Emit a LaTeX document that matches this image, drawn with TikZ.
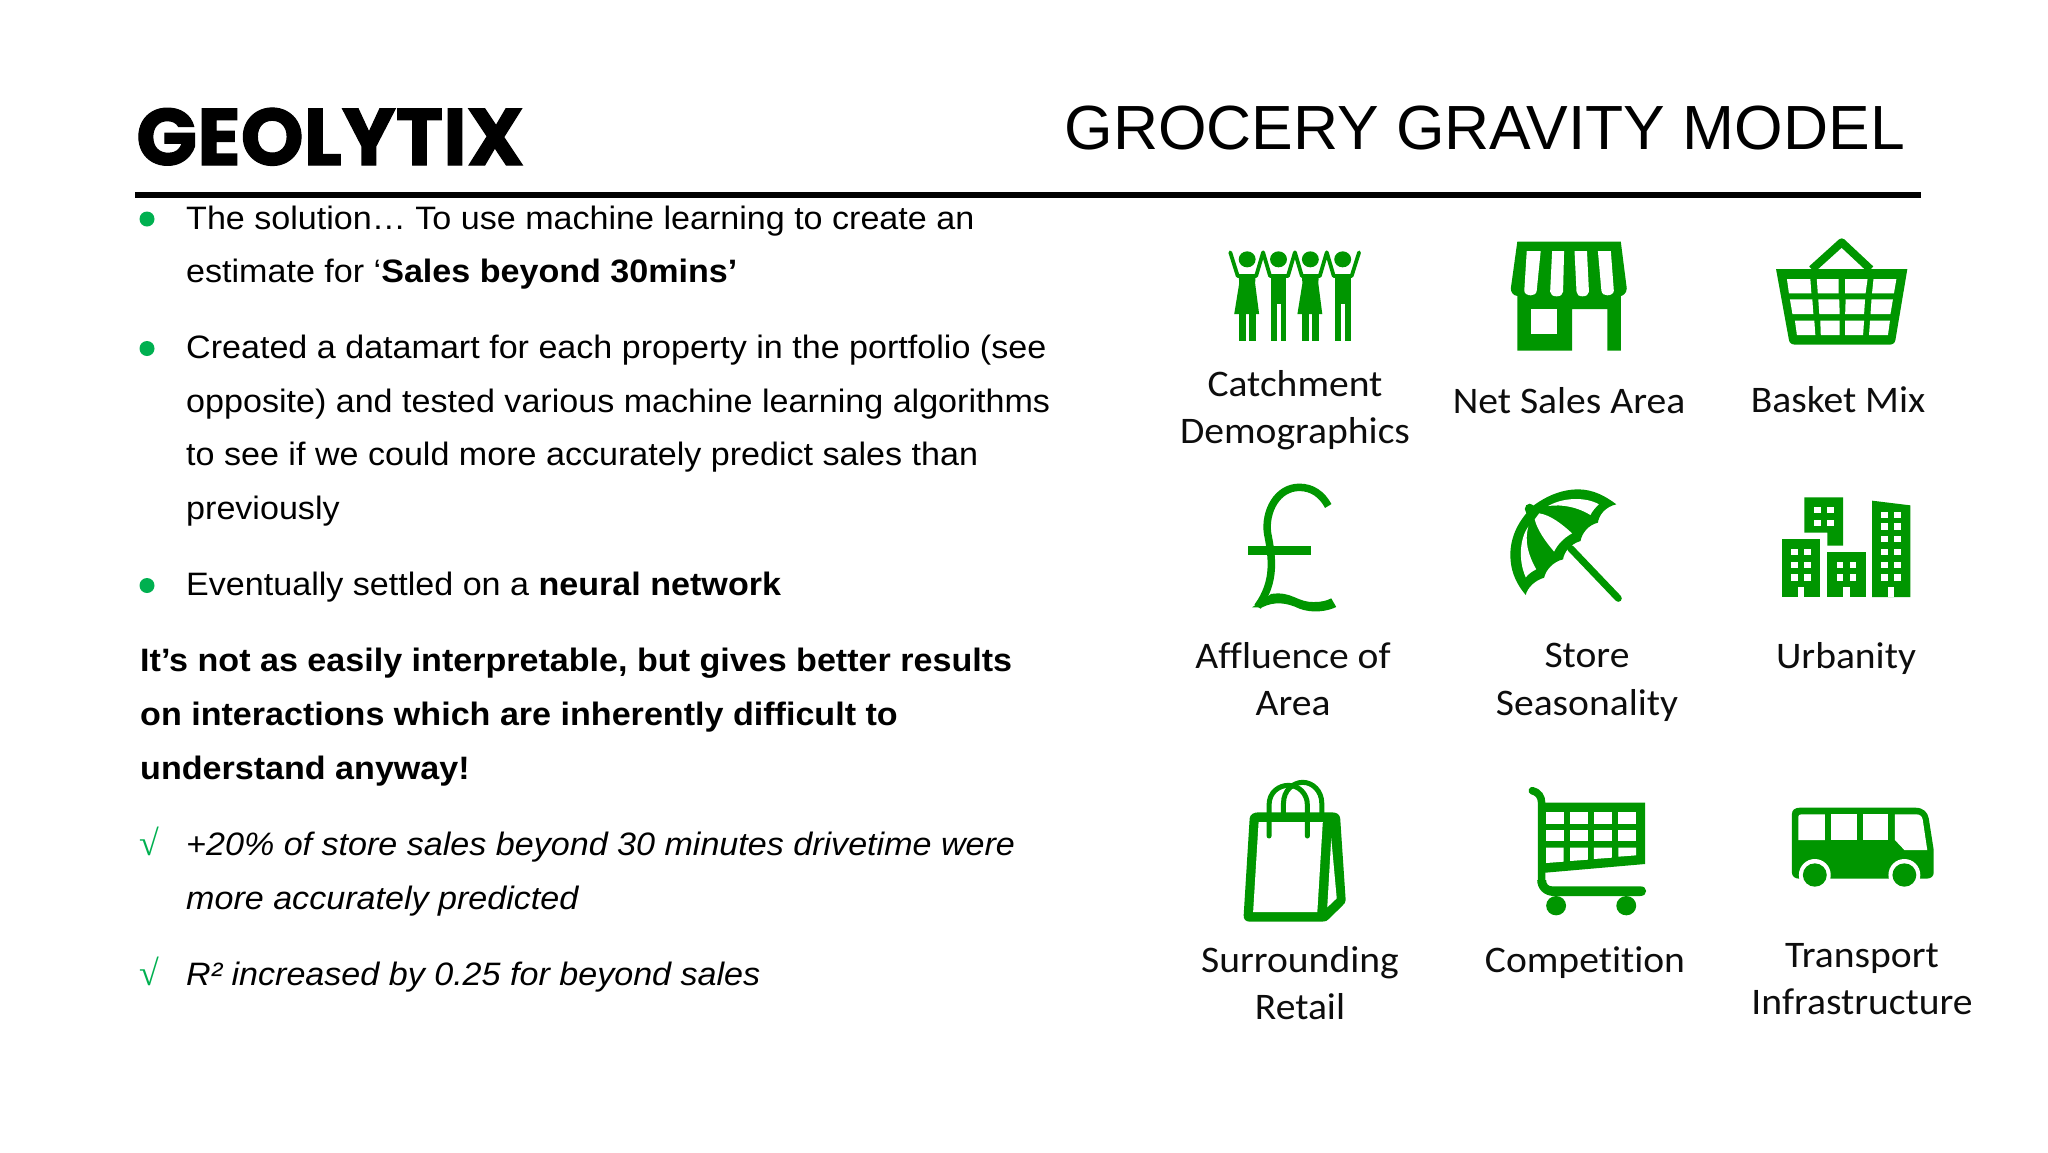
\documentclass[tikz,border=0pt]{standalone}
\usepackage{fontspec}
\setmainfont[FakeStretch=1.052]{Liberation Sans}
\newfontfamily\titlefont{Liberation Sans}
\newfontfamily\carl[Ligatures=NoCommon,FakeStretch=1.055]{Carlito}
\newfontfamily\logobase[FakeBold=1.4]{Poppins Bold}
\newfontfamily\checkfont{Liberation Serif}
\definecolor{iconG}{RGB}{0,150,0}
\definecolor{bulletG}{RGB}{0,176,80}
\tikzset{
  body/.style={anchor=base west,inner sep=0pt,font=\fontsize{32.4}{32.4}\selectfont},
  lab/.style={anchor=base,inner sep=0pt,text=black!95,font=\carl\fontsize{37.5}{37.5}\selectfont},
  dot/.style={circle,fill=bulletG,minimum size=15pt,inner sep=0pt},
  tick/.style={anchor=base,inner sep=0pt,text=bulletG,font=\checkfont\fontsize{36}{36}\selectfont},
  ic/.style={fill=iconG,draw=none},
  wh/.style={fill=white,draw=none},
  zoomA/.style={shift={(1180,220)},x=0.4975pt,y=-0.33333pt},
  zoomB/.style={shift={(1180,470)},x=0.4975pt,y=-0.33333pt},
  zoomC/.style={shift={(1180,770)},x=0.4975pt,y=-0.33333pt},
}
\begin{document}
\begin{tikzpicture}[x=1pt,y=-1pt]
\useasboundingbox[fill=white] (0,0) rectangle (2048,1152);
% header
\node[anchor=base west,inner sep=0pt] (logo) at (136,165) {\resizebox{388pt}{!}{\logobase\fontsize{80}{80}\selectfont GEOLYTIX}};
\node[anchor=base east,inner sep=0pt,font=\titlefont\fontsize{62.4}{62.4}\selectfont] (title) at (1905,149) {GROCERY GRAVITY MODEL};
\coordinate (ruleL) at (135,195);
\coordinate (ruleR) at (1921,195);
\draw[line width=6.5pt,black] (ruleL) -- (ruleR);
% left text
\node[dot] (b1) at (147,219) {};
\node[body] (t1) at (186,229) {The solution… To use machine learning to create an};
\node[body] (t2) at (186,282) {estimate for ‘\textbf{Sales beyond 30mins’}};
\node[dot] (b2) at (147,348.5) {};
\node[body] (t3) at (186,358.5) {Created a datamart for each property in the portfolio (see};
\node[body] (t4) at (186,412) {opposite) and tested various machine learning algorithms};
\node[body] (t5) at (186,465.5) {to see if we could more accurately predict sales than};
\node[body] (t6) at (186,519) {previously};
\node[dot] (b3) at (147,585.5) {};
\node[body] (t7) at (186,595) {Eventually settled on a \textbf{neural network}};
\node[body,font=\bfseries\fontsize{32.4}{32.4}\selectfont] (t8) at (140,671.5) {It’s not as easily interpretable, but gives better results};
\node[body,font=\bfseries\fontsize{32.4}{32.4}\selectfont] (t9) at (140,725.5) {on interactions which are inherently difficult to};
\node[body,font=\bfseries\fontsize{32.4}{32.4}\selectfont] (t10) at (140,779) {understand anyway!};
\node[tick] (c1) at (149,855) {√};
\node[body,font=\itshape\fontsize{32.4}{32.4}\selectfont] (t11) at (186,855) {+20\% of store sales beyond 30 minutes drivetime were};
\node[body,font=\itshape\fontsize{32.4}{32.4}\selectfont] (t12) at (186,909) {more accurately predicted};
\node[tick] (c2) at (149,985) {√};
\node[body,font=\itshape\fontsize{32.4}{32.4}\selectfont] (t13) at (186,985) {R² increased by 0.25 for beyond sales};
% labels
\node[lab] (l1a) at (1295,396) {Catchment};
\node[lab] (l1b) at (1295,443) {Demographics};
\node[lab] (l2) at (1569,413) {Net Sales Area};
\node[lab] (l3) at (1838,412) {Basket Mix};
\node[lab] (l4a) at (1293,668) {Affluence of};
\node[lab] (l4b) at (1293,715) {Area};
\node[lab] (l5a) at (1587,667) {Store};
\node[lab] (l5b) at (1587,715) {Seasonality};
\node[lab] (l6) at (1846,668) {Urbanity};
\node[lab] (l7a) at (1300,972) {Surrounding};
\node[lab] (l7b) at (1300,1019) {Retail};
\node[lab] (l8) at (1585,972) {Competition};
\node[lab] (l9a) at (1862,967) {Transport};
\node[lab] (l9b) at (1862,1014) {Infrastructure};
% people
\begin{scope}[zoomA]
\draw[iconG,line width=3.8pt,line cap=round,line join=round]
 (101,97) -- (116,168) -- (153,168) -- (167,97) -- (181,168) -- (217,168) -- (231,97) -- (245,168) -- (281,168) -- (295,97) -- (309,168) -- (345,168) -- (360,97);
\foreach \cx in {135,262}{
  \fill[iconG] (\cx,118) ellipse[x radius=17,y radius=24];
  \fill[ic] (\cx-17,165) -- (\cx+17,165) -- (\cx+16,190) -- (\cx+24,282) -- (\cx-26,282) -- (\cx-16,190) -- cycle;
  \fill[ic] (\cx-17,280) rectangle (\cx-3,362);
  \fill[ic] (\cx+3,280) rectangle (\cx+17,362);
}
\foreach \cx in {198,327}{
  \fill[iconG] (\cx,118) ellipse[x radius=17,y radius=24];
  \fill[ic] (\cx-16,165) rectangle (\cx+16,362);
  \fill[wh] (\cx-4,252) rectangle (\cx+4,362);
}
% shop
\fill[ic] (678,65) -- (886,65) -- (898,205) .. controls (898,222) and (888,228) .. (886,228) -- (886,392) -- (859,392) -- (859,267) -- (788,267) -- (788,392) -- (678,392) -- (678,228) .. controls (670,226) and (665,218) .. (665,205) -- cycle;
\fill[wh] (705,267) rectangle (757,343);
\fill[wh] (697,93) -- (725,93) -- (717,212) .. controls (716,222) and (711,226) .. (705,226) .. controls (698,226) and (692,220) .. (692,212) -- cycle;
\fill[wh] (748,93) -- (772,93) -- (770,215) .. controls (770,224) and (764,229) .. (757,229) .. controls (750,229) and (744,224) .. (744,215) -- cycle;
\fill[wh] (793,93) -- (818,93) -- (822,215) .. controls (822,224) and (816,229) .. (809,229) .. controls (802,229) and (797,224) .. (797,215) -- cycle;
\fill[wh] (840,93) -- (866,93) -- (872,212) .. controls (872,220) and (866,226) .. (859,226) .. controls (853,226) and (848,222) .. (847,212) -- cycle;
% basket
\draw[iconG,line width=8pt,line join=round] (1270,148) -- (1330,67) -- (1388,148);
\fill[ic] (1198,147) -- (1462,147) -- (1438,360) .. controls (1437,370) and (1432,374) .. (1425,374) -- (1238,374) .. controls (1230,374) and (1225,370) .. (1224,360) -- cycle;
\fill[wh] (1220,177) -- (1267,177) -- (1269,220) -- (1224,220) -- cycle;
\fill[wh] (1280,177) -- (1324,177) -- (1324,220) -- (1282,220) -- cycle;
\fill[wh] (1337,177) -- (1382,177) -- (1378,220) -- (1337,220) -- cycle;
\fill[wh] (1394,177) -- (1440,177) -- (1435,220) -- (1391,220) -- cycle;
\fill[wh] (1226,238) -- (1271,238) -- (1273,282) -- (1231,282) -- cycle;
\fill[wh] (1283,238) -- (1325,238) -- (1326,282) -- (1285,282) -- cycle;
\fill[wh] (1338,238) -- (1377,238) -- (1375,282) -- (1337,282) -- cycle;
\fill[wh] (1390,238) -- (1433,238) -- (1428,282) -- (1388,282) -- cycle;
\fill[wh] (1236,302) -- (1275,302) -- (1277,345) -- (1240,345) -- cycle;
\fill[wh] (1287,302) -- (1326,302) -- (1326,345) -- (1288,345) -- cycle;
\fill[wh] (1337,302) -- (1375,302) -- (1373,345) -- (1337,345) -- cycle;
\fill[wh] (1387,302) -- (1427,302) -- (1423,345) -- (1385,345) -- cycle;
\end{scope}
% pound, umbrella, buildings
\begin{scope}[zoomB]
\draw[iconG,line width=7.5pt] (298,108) .. controls (285,72) and (265,52) .. (240,52) .. controls (195,52) and (170,125) .. (176,190) .. controls (186,265) and (192,335) .. (156,410);
\fill[ic] (137,227) rectangle (263,256);
\fill[ic] (145,412) -- (183,372) .. controls (225,362) and (235,398) .. (270,396) .. controls (285,396) and (295,392) .. (304,385) -- (314,411) .. controls (295,425) and (265,430) .. (240,416) .. controls (215,398) and (190,393) .. (165,412) -- cycle;
% umbrella
\draw[iconG,line width=7pt,line cap=round] (785,235) -- (881,385);
\fill[ic] (695,375) .. controls (672,335) and (664,295) .. (664,255) .. controls (664,200) and (680,150) .. (712,105) .. controls (740,75) and (770,58) .. (800,58) .. controls (830,58) and (855,78) .. (877,103)
 .. controls (855,110) and (842,135) .. (840,158) .. controls (820,165) and (808,190) .. (805,213) .. controls (785,222) and (772,245) .. (770,268) .. controls (750,275) and (735,300) .. (732,323) .. controls (715,330) and (698,352) .. (695,375) -- cycle;
\fill[iconG] (703,117) ellipse[x radius=10,y radius=16];
\fill[wh] (740,108) .. controls (770,82) and (815,80) .. (842,103) .. controls (835,112) and (828,125) .. (825,135) .. controls (800,112) and (770,102) .. (740,108) -- cycle;
\fill[wh] (713,148) -- (722,130) .. controls (745,135) and (770,165) .. (788,190) .. controls (770,205) and (758,225) .. (752,245) .. controls (735,215) and (718,180) .. (713,148) -- cycle;
\fill[wh] (700,170) .. controls (685,200) and (678,265) .. (695,322) .. controls (700,312) and (708,304) .. (716,298) .. controls (700,255) and (692,215) .. (700,170) -- cycle;
% buildings
\fill[ic] (1255,82) -- (1333,82) -- (1333,227) -- (1301,227) -- (1301,188) -- (1255,188) -- cycle;
\fill[ic] (1210,207) rectangle (1287,381);
\fill[ic] (1301,246) rectangle (1378,381);
\fill[ic] (1391,92) -- (1468,106) -- (1468,381) -- (1391,381) -- cycle;
\foreach \wx/\wy in {1275/110,1301/110,1275/149,1301/149,
  1229/236,1255/236,1229/275,1255/275,1229/313,1255/313,
  1320/275,1346/275,1320/313,1346/313,
  1410/125,1436/125,1410/159,1436/159,1410/197,1436/197,1410/236,1436/236,1410/275,1436/275,1410/313,1436/313}{
  \fill[wh] (\wx,\wy) rectangle (\wx+13,\wy+20);
}
\foreach \dx in {1242,1333,1423}{ \fill[wh] (\dx,352) rectangle (\dx+13,381); }
\end{scope}
% bag, cart, bus
\begin{scope}[zoomC]
\fill[ic] (158,127) -- (305,127) .. controls (315,127) and (321,133) .. (322,145) -- (333,390) .. controls (333,397) and (330,402) .. (327,406) -- (300,446) .. controls (296,453) and (292,455) .. (285,455) -- (140,455) .. controls (132,455) and (127,447) .. (128,435) -- (140,145) .. controls (141,133) and (148,127) .. (158,127) -- cycle;
\fill[wh] (158,156) -- (287,156) -- (276,426) -- (147,426) -- cycle;
\fill[wh] (304,205) -- (315,385) -- (296,412) -- cycle;
\draw[iconG,line width=5pt,line cap=round] (179,198) -- (179,105) .. controls (179,65) and (200,46) .. (218,46) .. controls (238,46) and (256,70) .. (256,105) -- (256,198);
\draw[iconG,line width=5pt] (208,130) -- (208,100) .. controls (208,60) and (228,37) .. (247,37) .. controls (266,37) and (285,62) .. (285,100) -- (285,130);
% cart
\draw[iconG,line width=7.5pt,line cap=round] (708,62) .. controls (720,66) and (727,80) .. (727,100) -- (727,330);
\fill[ic] (718,330) .. controls (718,355) and (730,378) .. (752,378) -- (925,378) .. controls (932,378) and (937,372) .. (937,363) .. controls (937,354) and (932,349) .. (925,349) -- (748,349) .. controls (740,349) and (736,342) .. (736,330) -- cycle;
\fill[ic] (727,98) -- (935,98) -- (935,282) -- (727,309) -- cycle;
\foreach \cxa/\cxb in {736/771,784/820,832/868,881/917}{
  \fill[wh] (\cxa,127) rectangle (\cxb,161);
  \fill[wh] (\cxa,180) rectangle (\cxb,214);
}
\fill[wh] (736,233) -- (771,233) -- (771,275) -- (736,279) -- cycle;
\fill[wh] (784,233) -- (820,233) -- (820,269) -- (784,273) -- cycle;
\fill[wh] (832,233) -- (868,233) -- (868,263) -- (832,267) -- cycle;
\fill[wh] (881,233) -- (917,233) -- (917,256) -- (881,260) -- cycle;
\fill[iconG] (756,407) ellipse[x radius=20,y radius=29];
\fill[iconG] (897,407) ellipse[x radius=20,y radius=29];
% bus
\fill[ic] (1230,132) .. controls (1230,120) and (1236,113) .. (1246,113) -- (1478,113) .. controls (1495,113) and (1503,128) .. (1505,145) -- (1515,240) -- (1515,308) .. controls (1515,320) and (1508,326) .. (1500,326) -- (1244,326) .. controls (1236,326) and (1230,318) .. (1230,308) -- cycle;
\fill[wh] (1243,140) .. controls (1243,136) and (1245,133) .. (1249,133) -- (1296,133) -- (1296,210) -- (1243,210) -- cycle;
\fill[wh] (1308,133) rectangle (1360,210);
\fill[wh] (1372,133) rectangle (1424,210);
\fill[wh] (1437,133) -- (1480,133) .. controls (1488,133) and (1492,140) .. (1493,150) -- (1502,240) -- (1456,240) -- (1437,210) -- cycle;
\begin{scope}
\clip (1200,250) rectangle (1540,326);
\fill[wh] (1276,315) ellipse[x radius=32,y radius=48];
\fill[wh] (1456,315) ellipse[x radius=32,y radius=48];
\end{scope}
\fill[iconG] (1276,315) ellipse[x radius=24,y radius=35];
\fill[iconG] (1456,315) ellipse[x radius=24,y radius=35];
\end{scope}
\end{tikzpicture}
\end{document}
